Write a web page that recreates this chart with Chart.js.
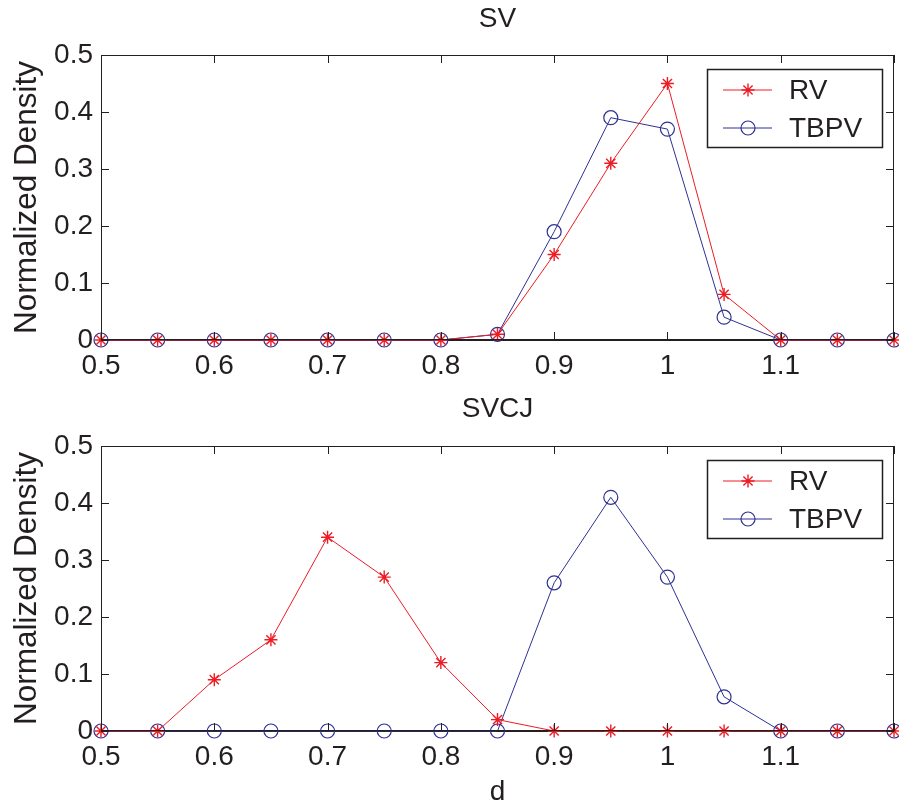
<!DOCTYPE html>
<html>
<head>
<meta charset="utf-8">
<script src="https://cdn.jsdelivr.net/npm/chart.js@4/dist/chart.umd.min.js"></script>
<style>
  body { margin: 0; background: #fff; }
  canvas { position: absolute; left: 0; }
</style>
</head>
<body>
<canvas id="svChart" width="899" height="385" style="top:0"></canvas>
<canvas id="svcjChart" width="899" height="422" style="top:385px"></canvas>
<script>
// d values (x axis)
var dValues = [0.5, 0.55, 0.6, 0.65, 0.7, 0.75, 0.8, 0.85, 0.9, 0.95, 1.0, 1.05, 1.1, 1.15, 1.2];

// SV panel
var svRV   = [0, 0, 0, 0, 0, 0, 0, 0.01, 0.15, 0.31, 0.45, 0.08, 0, 0, 0];
var svTBPV = [0, 0, 0, 0, 0, 0, 0, 0.01, 0.19, 0.39, 0.37, 0.04, 0, 0, 0];

// SVCJ panel
var svcjRV   = [0, 0, 0.09, 0.16, 0.34, 0.27, 0.12, 0.02, 0, 0, 0, 0, 0, 0, 0];
var svcjTBPV = [0, 0, 0, 0, 0, 0, 0, 0, 0.26, 0.41, 0.27, 0.06, 0, 0, 0];

var xTicks = [0.5, 0.6, 0.7, 0.8, 0.9, 1.0, 1.1];
var seriesNames = ['RV', 'TBPV'];

var RED = '#ed1c24';
var BLUE = '#2e3192';
var INK = '#231f20';
var FONT = "'Liberation Sans', Arial, Helvetica, sans-serif";

function toPoints(ys) {
  return ys.map(function (y, i) { return { x: dValues[i], y: y }; });
}

// MATLAB-like box with inward ticks on all four sides
var boxPlugin = {
  id: 'matlabBox',
  afterDatasetsDraw: function (chart) {
    var ctx = chart.ctx, a = chart.chartArea;
    var xs = chart.scales.x, ys = chart.scales.y;
    var len = 8;
    ctx.save();
    ctx.strokeStyle = INK;
    ctx.lineWidth = 1;
    ctx.strokeRect(a.left + 0.5, a.top + 0.5, a.right - a.left - 1, a.bottom - a.top - 1);
    ctx.beginPath();
    xs.ticks.forEach(function (t) {
      var px = Math.round(xs.getPixelForValue(t.value)) + 0.5;
      ctx.moveTo(px, a.bottom); ctx.lineTo(px, a.bottom - len);
      ctx.moveTo(px, a.top); ctx.lineTo(px, a.top + len);
    });
    ys.ticks.forEach(function (t) {
      var py = Math.round(ys.getPixelForValue(t.value)) + 0.5;
      ctx.moveTo(a.left, py); ctx.lineTo(a.left + len, py);
      ctx.moveTo(a.right, py); ctx.lineTo(a.right - len, py);
    });
    ctx.stroke();
    ctx.restore();
  }
};

// legend box inside the upper right of the plot area
var boxLegendPlugin = {
  id: 'boxLegend',
  afterDraw: function (chart) {
    var ctx = chart.ctx, a = chart.chartArea;
    var left = a.right - 187, top = a.top + 14, w = 175, h = 78;
    ctx.save();
    ctx.fillStyle = '#fff';
    ctx.fillRect(left, top, w, h);
    ctx.strokeStyle = INK;
    ctx.lineWidth = 1.5;
    ctx.strokeRect(left + 0.5, top + 0.5, w, h);
    chart.data.datasets.forEach(function (ds, i) {
      var y = top + 21 + i * 38;
      ctx.strokeStyle = ds.borderColor;
      ctx.lineWidth = 1;
      ctx.beginPath();
      ctx.moveTo(left + 16, y);
      ctx.lineTo(left + 65, y);
      ctx.stroke();
      ctx.fillStyle = 'rgba(0,0,0,0)';
      ctx.lineWidth = ds.pointBorderWidth;
      Chart.helpers.drawPoint(ctx, { pointStyle: ds.pointStyle, radius: ds.pointRadius, borderWidth: ds.pointBorderWidth }, left + 41, y);
      ctx.fillStyle = INK;
      ctx.font = '28px ' + FONT;
      ctx.textBaseline = 'middle';
      ctx.textAlign = 'left';
      ctx.fillText(ds.label, left + 82, y + 1);
    });
    ctx.restore();
  }
};

function makeChart(id, title, rv, tbpv, opts) {
  return new Chart(document.getElementById(id), {
    type: 'line',
    data: {
      datasets: [{
        label: seriesNames[0],
        data: toPoints(rv),
        borderColor: RED,
        backgroundColor: RED,
        borderWidth: 1,
        pointStyle: 'star',
        pointRadius: 6.5,
        pointBorderWidth: 1.4,
        pointBorderColor: RED,
        clip: false,
        tension: 0
      }, {
        label: seriesNames[1],
        data: toPoints(tbpv),
        borderColor: BLUE,
        backgroundColor: 'rgba(0,0,0,0)',
        borderWidth: 1,
        pointStyle: 'circle',
        pointRadius: 7,
        pointBorderWidth: 1.2,
        pointBorderColor: BLUE,
        pointBackgroundColor: 'rgba(0,0,0,0)',
        clip: false,
        tension: 0
      }]
    },
    options: {
      responsive: false,
      animation: false,
      devicePixelRatio: 1,
      layout: { autoPadding: false, padding: { left: 0, right: 5, top: 0, bottom: 0 } },
      plugins: {
        legend: { display: false },
        tooltip: { enabled: false },
        title: {
          display: true,
          text: title,
          fullSize: false,
          color: INK,
          font: { family: FONT, size: 28, weight: 'normal' },
          padding: opts.titlePadding
        }
      },
      scales: {
        x: {
          type: 'linear',
          min: 0.5,
          max: 1.2,
          afterBuildTicks: function (scale) {
            scale.ticks = xTicks.concat([1.2]).map(function (v) { return { value: v }; });
          },
          afterFit: function (scale) {
            scale.height = opts.xHeight;
            scale.paddingLeft = 0;
            scale.paddingRight = 0;
          },
          grid: { display: false, drawTicks: false },
          border: { display: true, color: INK, width: 1 },
          ticks: {
            color: INK,
            padding: 9,
            maxRotation: 0,
            autoSkip: false,
            font: { family: FONT, size: 28 },
            callback: function (v) { return v > 1.15 ? '' : String(Math.round(v * 10) / 10); }
          },
          title: {
            display: opts.xTitle,
            text: 'd',
            color: INK,
            font: { family: FONT, size: 28, lineHeight: 1 },
            padding: { top: 0, bottom: 1 }
          }
        },
        y: {
          min: 0,
          max: 0.5,
          afterFit: function (scale) { scale.width = 101; },
          grid: { display: false, drawTicks: false },
          border: { display: true, color: INK, width: 1 },
          ticks: {
            stepSize: 0.1,
            color: INK,
            padding: 8,
            font: { family: FONT, size: 28 },
            callback: function (v) { return String(Math.round(v * 10) / 10); }
          },
          title: {
            display: true,
            text: 'Normalized Density',
            color: INK,
            font: { family: FONT, size: 31.5 },
            padding: { top: 8, bottom: 0 }
          }
        }
      }
    },
    plugins: [boxPlugin, boxLegendPlugin]
  });
}

makeChart('svChart', 'SV', svRV, svTBPV, {
  titlePadding: { top: 2.2, bottom: 19.2 },
  xHeight: 45,
  xTitle: false
});
makeChart('svcjChart', 'SVCJ', svcjRV, svcjTBPV, {
  titlePadding: { top: 7.2, bottom: 20.2 },
  xHeight: 76,
  xTitle: true
});
</script>
</body>
</html>
